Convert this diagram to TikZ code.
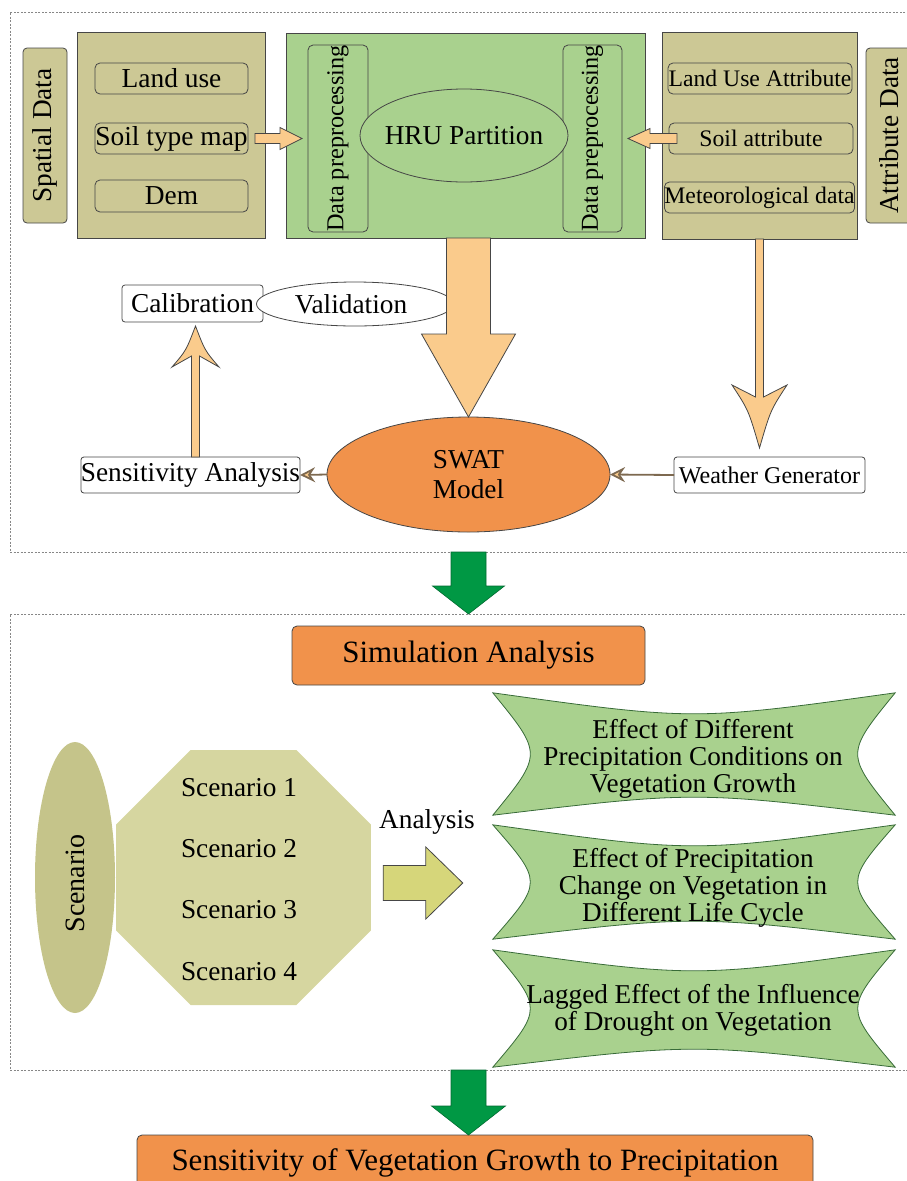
\documentclass[tikz,border=0pt]{standalone}
\usepackage{fontspec}
\setmainfont{Liberation Serif}
\usetikzlibrary{calc,shapes.geometric,arrows.meta,backgrounds}

\definecolor{olive}{RGB}{204,200,149}
\definecolor{hgreen}{RGB}{169,209,142}
\definecolor{sorange}{RGB}{241,146,75}
\definecolor{lorange}{RGB}{250,203,140}
\definecolor{scenc}{RGB}{197,196,138}
\definecolor{octc}{RGB}{214,214,160}
\definecolor{anac}{RGB}{214,214,122}
\definecolor{dgreen}{RGB}{0,152,68}
\definecolor{edgec}{RGB}{70,70,70}
\definecolor{brownl}{RGB}{125,105,80}
\definecolor{framec}{RGB}{135,135,135}

\tikzset{
  base/.style={inner sep=0pt, outer sep=0pt, draw=edgec, line width=0.8pt},
  frame/.style={inner sep=0pt, outer sep=0pt, draw=framec, line width=1pt, dash pattern=on 2pt off 1.5pt},
  obox/.style={base, fill=olive, rectangle},
  ibox/.style={base, fill=olive, rounded corners=5pt, font=\fontsize{27.4}{29}\selectfont},
  ibox2/.style={base, fill=olive, rounded corners=5pt, font=\fontsize{23.7}{25}\selectfont},
  wbox/.style={base, fill=white, rounded corners=3pt, font=\fontsize{27.3}{29}\selectfont},
  txt/.style={inner sep=0pt, outer sep=0pt, font=\fontsize{27.3}{29}\selectfont},
  btxt/.style={inner sep=0pt, outer sep=0pt, align=center, font=\fontsize{27.2}{27}\selectfont},
  lorangeA/.style={fill=lorange, draw=edgec, line width=0.8pt},
  greenA/.style={fill=dgreen, draw=dgreen!70!black, line width=0.6pt},
  anaA/.style={fill=anac, draw=edgec, line width=0.8pt},
  bannerst/.style={fill=hgreen, draw=edgec!80!green, line width=0.8pt},
  conn/.style={draw=brownl, line width=1.8pt, -{Stealth[length=15pt,width=15pt,inset=5pt,fill=lorange]}},
}

% vertical block arrow: from, tip, shaft half, head half, head length (signed), style
\newcommand{\bArrV}[6]{%
  \path[#6] let \p1=(#1), \p2=(#2) in
   ({\x2-(#3)},{\y1}) -- ({\x2+(#3)},{\y1}) -- ({\x2+(#3)},{\y2+(#5)}) -- ({\x2+(#4)},{\y2+(#5)})
   -- (\x2,\y2) -- ({\x2-(#4)},{\y2+(#5)}) -- ({\x2-(#3)},{\y2+(#5)}) -- cycle;}
% horizontal block arrow
\newcommand{\bArrH}[6]{%
  \path[#6] let \p1=(#1), \p2=(#2) in
   ({\x1},{\y2-(#3)}) -- ({\x2-(#5)},{\y2-(#3)}) -- ({\x2-(#5)},{\y2-(#4)}) -- (\x2,\y2)
   -- ({\x2-(#5)},{\y2+(#4)}) -- ({\x2-(#5)},{\y2+(#3)}) -- ({\x1},{\y2+(#3)}) -- cycle;}
% stealth-like thin arrow: from, tip, shaft half, barb half, junction offset, barb offset
\newcommand{\sArr}[6]{%
  \path[lorangeA] let \p1=(#1), \p2=(#2) in
   ({\x2-(#3)},{\y1}) -- ({\x2+(#3)},{\y1}) -- ({\x2+(#3)},{\y2+(#5)}) -- ({\x2+(#4)},{\y2+(#6)})
   .. controls ({\x2+0.4*(#4)},{\y2+0.6*(#6)}) .. (\x2,\y2)
   .. controls ({\x2-0.4*(#4)},{\y2+0.6*(#6)}) .. ({\x2-(#4)},{\y2+(#6)})
   -- ({\x2-(#3)},{\y2+(#5)}) -- cycle;}
% banner shape around a node
\newcommand{\bannerpath}[1]{%
  \path[bannerst] let \p1=(#1.north west), \p2=(#1.south east) in
   (\x1,\y1) .. controls ({0.5*\x1+0.5*\x2},{\y1-28pt}) .. (\x2,\y1)
   .. controls ({\x2-50pt},{0.5*\y1+0.5*\y2}) .. (\x2,\y2)
   .. controls ({0.5*\x1+0.5*\x2},{\y2+24pt}) .. (\x1,\y2)
   .. controls ({\x1+50pt},{0.5*\y1+0.5*\y2}) .. (\x1,\y1) -- cycle;}

\begin{document}
\begin{tikzpicture}[x=1pt,y=-1pt]
\useasboundingbox (0,0) rectangle (907,1181);
\clip (0,0) rectangle (907,1181);

% frames
\node[frame, minimum width=902pt, minimum height=540pt] (topframe) at (461,282) {};
\node[frame, minimum width=902pt, minimum height=456pt] (botframe) at (461,842) {};

% ---- top section ----
\node[obox, rounded corners=4pt, rotate=90, minimum width=175pt, minimum height=44pt,
      font=\fontsize{27.3}{29}\selectfont] (spatial) at (45,135.5) {Spatial Data};
\node[obox, minimum width=188pt, minimum height=206pt] (lbox) at (171,135) {};
\node[ibox, minimum width=153pt, minimum height=31pt] (landuse) at (171.5,78.5) {Land use};
\node[ibox, minimum width=153pt, minimum height=31pt] (soilmap) at (171.5,138.5) {Soil type map};
\node[ibox, minimum width=153pt, minimum height=32pt] (dem) at (171.5,196) {Dem};

\node[base, fill=hgreen, minimum width=359pt, minimum height=205pt] (green) at (465.5,135.5) {};
\node[base, fill=hgreen, rounded corners=5pt, rotate=90, minimum width=183pt, minimum height=60pt,
      font=\fontsize{24.3}{26}\selectfont] (dpl) at (338,138.5) {Data preprocessing};
\node[base, fill=hgreen, rounded corners=5pt, rotate=90, minimum width=183pt, minimum height=59pt,
      font=\fontsize{24.3}{26}\selectfont] (dpr) at (592.5,138.5) {Data preprocessing};
\node[base, fill=hgreen, ellipse, minimum width=208pt, minimum height=93pt] (hru) at (464,135.5) {};
\node[txt] (hrut) at (hru) {HRU Partition};

\node[obox, minimum width=195pt, minimum height=207pt] (rbox) at (759.5,135.5) {};
\node[ibox2, minimum width=184pt, minimum height=31pt] (lua) at (760,78.5) {Land Use Attribute};
\node[ibox2, minimum width=184pt, minimum height=31pt] (sattr) at (761,138.5) {Soil attribute};
\node[ibox2, minimum width=189pt, minimum height=31pt] (met) at (759.5,197.5) {Meteorological data};
\node[obox, rounded corners=4pt, rotate=90, minimum width=175pt, minimum height=46pt,
      font=\fontsize{27.3}{29}\selectfont] (attr) at (889,135.5) {Attribute Data};

\bArrH{$(soilmap.east)+(7,0)$}{$(dpl.north)+(-6,0)$}{5pt}{11pt}{22pt}{lorangeA}
\bArrH{$(sattr.west)+(8,0)$}{$(dpr.south)+(6,0)$}{5pt}{10pt}{-22pt}{lorangeA}

\node[wbox, minimum width=141pt, minimum height=37pt] (calib) at (192.5,303.5) {Calibration};
\node[base, ellipse, fill=white, minimum width=197pt, minimum height=44pt] (valid) at (355,304) {};
\node[txt] (validt) at (351,304) {Validation};
\node[wbox, minimum width=217pt, minimum height=36pt] (sens) at (190.5,475) {Sensitivity Analysis};
\node[base, ellipse, fill=sorange, minimum width=283pt, minimum height=115pt] (swat) at (468.5,474.5) {};
\node[txt, align=center, font=\fontsize{27.3}{30}\selectfont] (swatt) at (swat) {SWAT\\Model};
\node[wbox, minimum width=191pt, minimum height=36pt, font=\fontsize{24}{25}\selectfont] (wg) at (769.5,475) {Weather Generator};

\bArrV{green.south}{swat.north}{22pt}{47pt}{83pt}{lorangeA}
\sArr{rbox.south}{$(rbox.south |- wg.north)+(0,-9)$}{4pt}{27.5pt}{51pt}{63pt}
\sArr{sens.north}{$(sens.north |- calib.south)+(5,4)$}{4pt}{23.5pt}{-30pt}{-41pt}
\draw[conn] (wg.west) -- (swat.east);
\draw[conn] (swat.west) -- (sens.east);

% green arrow between sections
\bArrV{swat.south |- topframe.south}{swat.south |- botframe.north}{17.5pt}{36pt}{28pt}{greenA}

% ---- bottom section ----
\node[base, fill=sorange, rounded corners=5pt, minimum width=353pt, minimum height=59pt,
      font=\fontsize{31}{33}\selectfont] (simA) at (468.5,655.5) {Simulation Analysis};
\node[ellipse, fill=scenc, minimum width=80pt, minimum height=271pt, inner sep=0pt] (scen) at (75,877.5) {};
\node[txt, rotate=90, font=\fontsize{28}{29}\selectfont] (scent) at (75,883.5) {Scenario};
\node[regular polygon, regular polygon sides=8, fill=octc, minimum size=276pt, inner sep=0pt] (oct) at (243.5,877.5) {};
\node[txt] (s1) at (239,788) {Scenario 1};
\node[txt] (s2) at (239,849) {Scenario 2};
\node[txt] (s3) at (239,910) {Scenario 3};
\node[txt] (s4) at (239,972) {Scenario 4};
\node[txt] (anat) at (427,822) {Analysis};

\node[inner sep=0pt, minimum width=402pt, minimum height=122pt] (b1) at (694,754) {};
\node[inner sep=0pt, minimum width=402pt, minimum height=114pt] (b2) at (694,882) {};
\node[inner sep=0pt, minimum width=402pt, minimum height=117pt] (b3) at (694,1008.5) {};
\begin{pgfonlayer}{background}
  \bannerpath{b1}
  \bannerpath{b2}
  \bannerpath{b3}
\end{pgfonlayer}
\node[btxt] (b1t) at ($(b1)+(-1,5)$) {Effect of Different\\Precipitation Conditions on\\Vegetation Growth};
\node[btxt] (b2t) at ($(b2)+(-1,6)$) {Effect of Precipitation\\Change on Vegetation in\\Different Life Cycle};
\node[btxt] (b3t) at ($(b3)+(-1,2)$) {Lagged Effect of the Influence\\of Drought on Vegetation};

\bArrH{$(oct.east)+(12,0)$}{$(b2.west)+(-30,1)$}{17.5pt}{36pt}{37pt}{anaA}

\node[base, fill=sorange, rounded corners=5pt, minimum width=676pt, minimum height=56pt,
      font=\fontsize{31}{33}\selectfont] (final) at (475,1163) {Sensitivity of Vegetation Growth to Precipitation};
\bArrV{simA.south |- botframe.south}{simA.south |- final.north}{17.5pt}{37pt}{29pt}{greenA}
\end{tikzpicture}
\end{document}
